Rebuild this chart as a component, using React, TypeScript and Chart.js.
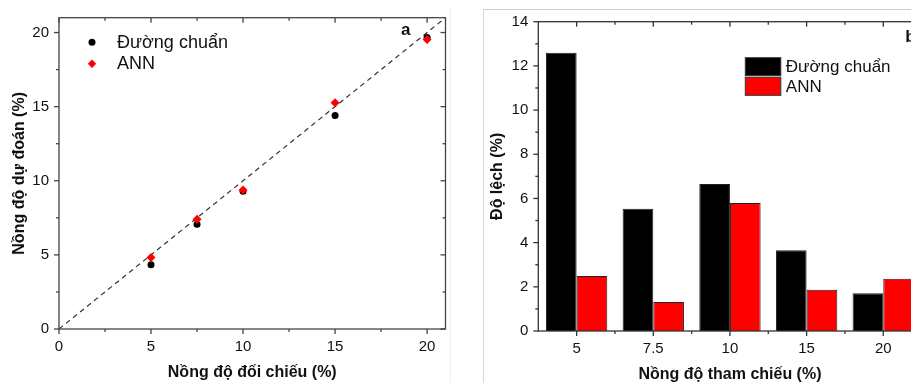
import React, { useEffect, useRef } from 'react';
import { Chart, registerables } from 'chart.js';

Chart.register(...registerables);

const FONT = '"Liberation Sans", Arial, Helvetica, sans-serif';

// ---- Panel a: predicted vs reference concentration ----
const refConc = [5, 7.5, 10, 15, 20];
const predCalib = [4.33, 7.06, 9.3, 14.4, 19.67];
const predANN = [4.83, 7.4, 9.37, 15.26, 19.53];
const identityX = [0, 21];
const aMajor = [0, 5, 10, 15, 20];
const aMinor = [2.5, 7.5, 12.5, 17.5];

// ---- Panel b: deviation bars ----
const devCategories = ['5', '7.5', '10', '15', '20'];
const devCalib = [12.59, 5.53, 6.65, 3.66, 1.71];
const devANN = [2.49, 1.31, 5.79, 1.87, 2.37];
const bYMajor = [0, 2, 4, 6, 8, 10, 12, 14];
const bYMinor = [1, 3, 5, 7, 9, 11, 13];
const bXMajor = [0, 1, 2, 3, 4];
const bXMinor = [0.5, 1.5, 2.5, 3.5];

const seriesNames = ['Đường chuẩn', 'ANN'];

const framePlugin = {
  id: 'frame',
  afterDraw(chart: any, _args: any, opts: any) {
    const { ctx, chartArea: a, scales } = chart;
    const xs = scales.x;
    const ys = scales.y;
    ctx.save();
    ctx.strokeStyle = opts.color;
    ctx.lineWidth = opts.lineWidth;
    ctx.strokeRect(a.left, a.top, a.right - a.left, a.bottom - a.top);
    const seg = (x1: number, y1: number, x2: number, y2: number) => {
      ctx.beginPath();
      ctx.moveTo(x1, y1);
      ctx.lineTo(x2, y2);
      ctx.stroke();
    };
    const drawX = (vals: number[], len: number) =>
      vals.forEach((v) => {
        const p = xs.getPixelForValue(v);
        seg(p, a.bottom, p, a.bottom + len);
        seg(p, a.top, p, a.top + len);
      });
    const drawY = (vals: number[], len: number) =>
      vals.forEach((v) => {
        const p = ys.getPixelForValue(v);
        seg(a.left, p, a.left - len, p);
        seg(a.right, p, a.right - len, p);
      });
    drawX(opts.xMajor, 5);
    drawX(opts.xMinor, 3);
    drawY(opts.yMajor, 5);
    drawY(opts.yMinor, 3);
    ctx.restore();
  },
};

const legendA = {
  id: 'legendA',
  afterDraw(chart: any) {
    const { ctx, chartArea: a } = chart;
    ctx.save();
    const mx = a.left + 33;
    const tx = a.left + 58;
    const y1 = a.top + 24.5;
    const y2 = a.top + 46;
    ctx.fillStyle = '#000';
    ctx.beginPath();
    ctx.arc(mx, y1, 3.5, 0, Math.PI * 2);
    ctx.fill();
    ctx.fillStyle = '#f00';
    const r = 4.2;
    ctx.beginPath();
    ctx.moveTo(mx, y2 - r);
    ctx.lineTo(mx + r, y2);
    ctx.lineTo(mx, y2 + r);
    ctx.lineTo(mx - r, y2);
    ctx.closePath();
    ctx.fill();
    ctx.fillStyle = '#111';
    ctx.font = `18px ${FONT}`;
    ctx.textBaseline = 'middle';
    ctx.textAlign = 'left';
    ctx.fillText(seriesNames[0], tx, y1 + 1);
    ctx.fillText(seriesNames[1], tx, y2);
    ctx.font = `bold 17px ${FONT}`;
    ctx.textBaseline = 'alphabetic';
    ctx.fillText('a', a.left + 342, 35);
    ctx.restore();
  },
};

const legendB = {
  id: 'legendB',
  afterDraw(chart: any) {
    const { ctx, chartArea: a } = chart;
    ctx.save();
    const bx = a.left + 207;
    const bw = 35.5;
    const bh = 18;
    const y1 = a.top + 36;
    const y2 = a.top + 55.6;
    ctx.lineWidth = 1;
    ctx.strokeStyle = '#333';
    ctx.fillStyle = '#000';
    ctx.fillRect(bx, y1, bw, bh);
    ctx.strokeRect(bx, y1, bw, bh);
    ctx.fillStyle = '#f00';
    ctx.fillRect(bx, y2, bw, bh);
    ctx.strokeRect(bx, y2, bw, bh);
    ctx.fillStyle = '#111';
    ctx.font = `17px ${FONT}`;
    ctx.textBaseline = 'middle';
    ctx.textAlign = 'left';
    ctx.fillText(seriesNames[0], bx + bw + 5, y1 + bh / 2 + 1);
    ctx.fillText(seriesNames[1], bx + bw + 5, y2 + bh / 2 + 1);
    ctx.font = `bold 17px ${FONT}`;
    ctx.textBaseline = 'alphabetic';
    ctx.fillText('b', a.left + 367, 42);
    ctx.restore();
  },
};

const tickFont = { family: FONT, size: 15 };
const titleFont = { family: FONT, size: 16, weight: 'bold' as const, lineHeight: 1 };

function PanelA() {
  const ref = useRef<HTMLCanvasElement>(null);
  useEffect(() => {
    const chart = new Chart(ref.current as HTMLCanvasElement, {
      type: 'scatter',
      data: {
        datasets: [
          {
            label: seriesNames[0],
            data: refConc.map((x, i) => ({ x, y: predCalib[i] })),
            pointStyle: 'circle',
            pointRadius: 3.5,
            backgroundColor: '#000',
            borderColor: '#000',
            borderWidth: 0,
            order: 1,
          },
          {
            label: seriesNames[1],
            data: refConc.map((x, i) => ({ x, y: predANN[i] })),
            pointStyle: 'rectRot',
            pointRadius: 4.5,
            backgroundColor: '#f00',
            borderColor: '#f00',
            borderWidth: 0,
            order: 0,
          },
          {
            type: 'line',
            label: 'y = x',
            data: identityX.map((v) => ({ x: v, y: v })),
            borderColor: '#333',
            borderWidth: 1.2,
            borderDash: [5, 4],
            pointRadius: 0,
            fill: false,
            order: 2,
          } as any,
        ],
      },
      options: {
        responsive: false,
        animation: false,
        devicePixelRatio: 1,
        layout: { padding: { left: 0, right: 14.5, top: 17.7, bottom: 0 } },
        plugins: {
          legend: { display: false },
          tooltip: { enabled: false },
          frame: { color: '#444', lineWidth: 1.3, xMajor: aMajor, xMinor: aMinor, yMajor: aMajor, yMinor: aMinor },
        } as any,
        scales: {
          x: {
            type: 'linear',
            min: 0,
            max: 21,
            afterFit: (s: any) => {
              s.height = 54;
            },
            grid: { display: false, drawTicks: true, tickLength: 5 },
            border: { display: false },
            ticks: { stepSize: 5, includeBounds: false, padding: 4, color: '#111', font: tickFont, maxRotation: 0 },
            title: { display: true, text: 'Nồng độ đối chiếu (%)', color: '#111', font: titleFont, padding: { top: 0, bottom: 2 } },
          },
          y: {
            type: 'linear',
            min: 0,
            max: 21,
            afterFit: (s: any) => {
              s.width = 59;
            },
            grid: { display: false, drawTicks: true, tickLength: 5 },
            border: { display: false },
            ticks: { stepSize: 5, includeBounds: false, padding: 5, color: '#111', font: tickFont },
            title: { display: true, text: 'Nồng độ dự đoán (%)', color: '#111', font: titleFont, padding: { top: 12, bottom: 0 } },
          },
        },
      },
      plugins: [framePlugin, legendA],
    });
    return () => chart.destroy();
  }, []);
  return (
    <canvas
      ref={ref}
      width={460}
      height={383}
      style={{ position: 'absolute', left: 0, top: 0, width: 460, height: 383 }}
    />
  );
}

function PanelB() {
  const ref = useRef<HTMLCanvasElement>(null);
  useEffect(() => {
    const chart = new Chart(ref.current as HTMLCanvasElement, {
      type: 'bar',
      data: {
        labels: devCategories,
        datasets: [
          {
            label: seriesNames[0],
            data: devCalib,
            backgroundColor: '#000',
            borderColor: '#222',
            borderWidth: 1,
            categoryPercentage: 0.8,
            barPercentage: 1,
          },
          {
            label: seriesNames[1],
            data: devANN,
            backgroundColor: '#f00',
            borderColor: '#222',
            borderWidth: 1,
            categoryPercentage: 0.8,
            barPercentage: 1,
          },
        ],
      },
      options: {
        responsive: false,
        animation: false,
        devicePixelRatio: 1,
        layout: { padding: { left: 0, right: 8.4, top: 21.7, bottom: 0 } },
        plugins: {
          legend: { display: false },
          tooltip: { enabled: false },
          frame: { color: '#333', lineWidth: 1.3, xMajor: bXMajor, xMinor: bXMinor, yMajor: bYMajor, yMinor: bYMinor },
        } as any,
        scales: {
          x: {
            afterFit: (s: any) => {
              s.height = 52;
            },
            grid: { display: false, drawTicks: true, tickLength: 5 },
            border: { display: false },
            ticks: { padding: 4, color: '#111', font: tickFont, maxRotation: 0 },
            title: { display: true, text: 'Nồng độ tham chiếu (%)', color: '#111', font: titleFont, padding: { top: 0, bottom: 0 } },
          },
          y: {
            min: 0,
            max: 14,
            afterFit: (s: any) => {
              s.width = 78.3;
            },
            grid: { display: false, drawTicks: true, tickLength: 5 },
            border: { display: false },
            ticks: { stepSize: 2, padding: 5, color: '#111', font: tickFont },
            title: { display: true, text: 'Độ lệch (%)', color: '#111', font: titleFont, padding: { top: 30, bottom: 0 } },
          },
        },
      },
      plugins: [framePlugin, legendB],
    });
    return () => chart.destroy();
  }, []);
  return (
    <canvas
      ref={ref}
      width={470}
      height={383}
      style={{ position: 'absolute', left: 460, top: 0, width: 470, height: 383 }}
    />
  );
}

export default function App() {
  return (
    <div
      style={{
        position: 'fixed',
        left: 0,
        top: 0,
        width: 911,
        height: 383,
        overflow: 'hidden',
        background: '#fff',
      }}
    >
      <div style={{ position: 'absolute', left: 450, top: 7, width: 1, height: 376, background: '#eeeeee' }} />
      <div
        style={{
          position: 'absolute',
          left: 483,
          top: 9,
          width: 500,
          height: 400,
          borderTop: '1px solid #cccccc',
          borderLeft: '1px solid #d8d8d8',
        }}
      />
      <PanelA />
      <PanelB />
    </div>
  );
}
